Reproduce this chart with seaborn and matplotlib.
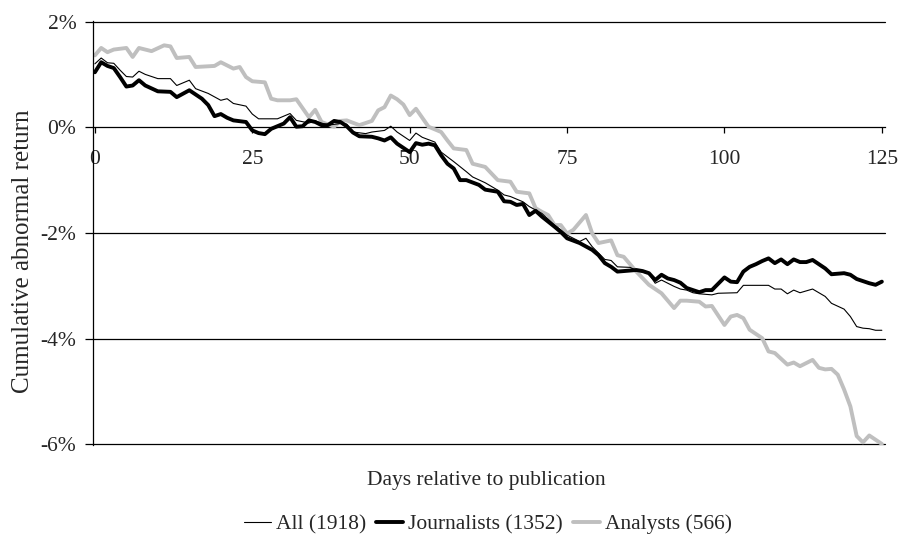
import numpy as np
import pandas as pd
import matplotlib
matplotlib.use("Agg")
import matplotlib.pyplot as plt
from matplotlib.ticker import FuncFormatter
import seaborn as sns

# ---- data (cumulative abnormal return, %) ----
all_days = [0, 1, 2, 3, 4, 5, 6, 7, 8, 10, 12, 13, 15, 16, 18, 20, 21, 22, 24, 25,
            26, 29, 31, 32, 34, 35, 37, 39, 40, 41, 43, 44, 46, 47, 48, 50, 51, 52, 54, 55,
            57, 59, 60, 62, 64, 65, 66, 68, 69, 71, 73, 74, 75, 76, 77, 78, 79, 81, 82, 83,
            85, 86, 88, 89, 90, 92, 93, 94, 95, 96, 98, 99, 102, 103, 105, 107, 108, 109, 110, 111,
            112, 114, 116, 117, 119, 120, 121, 122, 123, 124, 125]
all_vals = [1.20, 1.31, 1.22, 1.21, 1.08, 0.96, 0.95, 1.06, 1.00, 0.92, 0.92, 0.79, 0.89, 0.73, 0.64, 0.51, 0.54, 0.45, 0.40, 0.25,
            0.16, 0.16, 0.26, 0.13, 0.08, 0.12, 0.04, 0.07, 0.06, -0.09, -0.12, -0.09, -0.06, 0.02, -0.09, -0.25, -0.11, -0.19, -0.28, -0.47,
            -0.65, -0.84, -0.94, -1.05, -1.19, -1.28, -1.31, -1.41, -1.50, -1.63, -1.85, -1.94, -2.04, -2.10, -2.16, -2.10, -2.26, -2.50, -2.52, -2.64,
            -2.65, -2.71, -2.77, -2.95, -2.89, -3.01, -3.06, -3.08, -3.13, -3.15, -3.17, -3.14, -3.13, -2.99, -2.99, -2.99, -3.06, -3.06, -3.15, -3.08,
            -3.13, -3.06, -3.20, -3.33, -3.44, -3.58, -3.77, -3.80, -3.81, -3.84, -3.84]

jour_days = [0, 1, 2, 3, 4, 5, 6, 7, 8, 10, 12, 13, 15, 17, 18, 19, 20, 21, 22, 24,
             25, 26, 27, 28, 30, 31, 32, 33, 34, 35, 36, 37, 38, 39, 40, 41, 42, 44, 45, 46,
             47, 48, 50, 51, 52, 53, 54, 55, 56, 57, 58, 59, 61, 62, 64, 65, 66, 67, 68, 69,
             70, 71, 73, 74, 75, 77, 79, 80, 81, 82, 83, 84, 86, 87, 88, 89, 90, 91, 92, 93,
             94, 95, 96, 97, 98, 100, 101, 102, 103, 104, 105, 106, 107, 108, 109, 110, 111, 112, 113, 114,
             115, 116, 117, 119, 120, 121, 122, 123, 124, 125]
jour_vals = [1.04, 1.23, 1.16, 1.12, 0.95, 0.77, 0.79, 0.89, 0.79, 0.68, 0.67, 0.57, 0.70, 0.54, 0.42, 0.21, 0.25, 0.18, 0.13, 0.10,
             -0.06, -0.11, -0.13, -0.03, 0.07, 0.19, 0.01, 0.02, 0.13, 0.10, 0.04, 0.04, 0.12, 0.10, 0.02, -0.10, -0.17, -0.18, -0.21, -0.25,
             -0.19, -0.31, -0.47, -0.30, -0.33, -0.31, -0.34, -0.53, -0.69, -0.78, -1.00, -1.00, -1.09, -1.18, -1.22, -1.40, -1.41, -1.47, -1.45, -1.66,
             -1.58, -1.69, -1.88, -1.98, -2.10, -2.19, -2.32, -2.42, -2.57, -2.64, -2.73, -2.72, -2.70, -2.72, -2.76, -2.89, -2.79, -2.86, -2.89, -2.94,
             -3.04, -3.08, -3.12, -3.08, -3.08, -2.84, -2.92, -2.93, -2.73, -2.64, -2.59, -2.53, -2.48, -2.57, -2.50, -2.59, -2.50, -2.55, -2.55, -2.51,
             -2.59, -2.67, -2.78, -2.76, -2.79, -2.87, -2.91, -2.95, -2.98, -2.92]

anal_days = [0, 1, 2, 3, 5, 6, 7, 9, 11, 12, 13, 15, 16, 19, 20, 22, 23, 24, 25, 27,
             28, 29, 31, 32, 34, 35, 36, 38, 39, 40, 42, 44, 45, 46, 47, 48, 49, 50, 51, 52,
             53, 54, 55, 56, 57, 59, 60, 62, 64, 66, 67, 69, 70, 71, 72, 73, 74, 75, 76, 78,
             79, 80, 82, 83, 84, 86, 88, 90, 92, 93, 94, 96, 97, 98, 100, 101, 102, 103, 104, 106,
             107, 108, 110, 111, 112, 114, 115, 116, 117, 118, 119, 120, 121, 122, 123, 124, 125]
anal_vals = [1.36, 1.50, 1.42, 1.47, 1.50, 1.33, 1.50, 1.44, 1.55, 1.53, 1.31, 1.33, 1.14, 1.16, 1.23, 1.11, 1.14, 0.95, 0.87, 0.85,
             0.54, 0.51, 0.51, 0.53, 0.19, 0.33, 0.10, 0.01, 0.12, 0.13, 0.04, 0.12, 0.32, 0.38, 0.60, 0.53, 0.43, 0.23, 0.35, 0.18,
             0.01, -0.04, -0.09, -0.25, -0.40, -0.43, -0.69, -0.75, -1.00, -1.03, -1.22, -1.25, -1.53, -1.60, -1.66, -1.85, -1.85, -2.01, -1.94, -1.66,
             -2.01, -2.19, -2.14, -2.42, -2.45, -2.73, -2.98, -3.14, -3.42, -3.28, -3.28, -3.30, -3.39, -3.38, -3.74, -3.58, -3.55, -3.61, -3.83, -3.99,
             -4.24, -4.27, -4.49, -4.45, -4.52, -4.40, -4.55, -4.58, -4.57, -4.68, -4.96, -5.28, -5.84, -5.96, -5.83, -5.91, -5.99]

series_names = ["All (1918)", "Journalists (1352)", "Analysts (566)"]
x_ticks = [0, 25, 50, 75, 100, 125]
y_ticks = [-6, -4, -2, 0, 2]

# ---- styling ----
sns.set_style("white")
plt.rcParams["font.family"] = ["Liberation Serif", "DejaVu Serif"]
plt.rcParams["axes.unicode_minus"] = False

FS = 15.5
W, H = 898, 538
fig = plt.figure(figsize=(W / 100, H / 100), dpi=100)
ax = fig.add_axes([93 / W, 1 - 445 / H, (885 - 93) / W, (445 - 21) / H])

styles = [
    dict(color="black", linewidth=0.8),
    dict(color="black", linewidth=2.8),
    dict(color="#BFBFBF", linewidth=2.8),
]
data = [(all_days, all_vals), (jour_days, jour_vals), (anal_days, anal_vals)]
# draw grey first so black lines sit on top, keep legend order
order = [2, 1, 0]
handles = {}
for i in order:
    d, v = data[i]
    df = pd.DataFrame({"day": d, "car": v})
    sns.lineplot(data=df, x="day", y="car", ax=ax, estimator=None, sort=True,
                 label=series_names[i], legend=False, **styles[i])
    handles[i] = ax.lines[-1]

ax.set_xlim(-0.3, 125.5)
ax.set_ylim(-6.01, 2.01)
ax.set_yticks(y_ticks)
ax.yaxis.set_major_formatter(FuncFormatter(lambda v, p: f"{int(round(v))}%"))
ax.set_xticks(x_ticks)
ax.set_xticklabels([str(t) for t in x_ticks])

# gridlines
ax.grid(False)
for yv in y_ticks:
    if yv != 0:
        ax.axhline(yv, color="black", linewidth=0.9, zorder=0.5, clip_on=False)

for s in ["top", "right"]:
    ax.spines[s].set_visible(False)
ax.spines["left"].set_color("black")
ax.spines["left"].set_linewidth(0.9)
ax.spines["bottom"].set_position(("data", 0))
ax.spines["bottom"].set_color("black")
ax.spines["bottom"].set_linewidth(0.9)
ax.spines["bottom"].set_zorder(0.6)

ax.tick_params(axis="y", which="major", direction="out", length=6, width=0.9,
               color="black", pad=6, labelsize=FS, left=True)
ax.tick_params(axis="x", which="major", direction="out", length=4.5, width=0.9,
               color="black", pad=12, labelsize=FS, bottom=True)

ax.set_xlabel("Days relative to publication", fontsize=FS)
ax.set_ylabel("Cumulative abnormal return", fontsize=18)
ax.xaxis.set_label_coords(0.497, -0.062)
ax.yaxis.set_label_coords(-0.074, 0.458)

leg = fig.legend([handles[0], handles[1], handles[2]], series_names,
                 loc="center", bbox_to_anchor=(488 / W, 1 - 524 / H), ncol=3,
                 frameon=False, fontsize=FS, handlelength=1.25, handletextpad=0.25,
                 columnspacing=0.45, borderaxespad=0)

fig.savefig("out.png", dpi=100)
